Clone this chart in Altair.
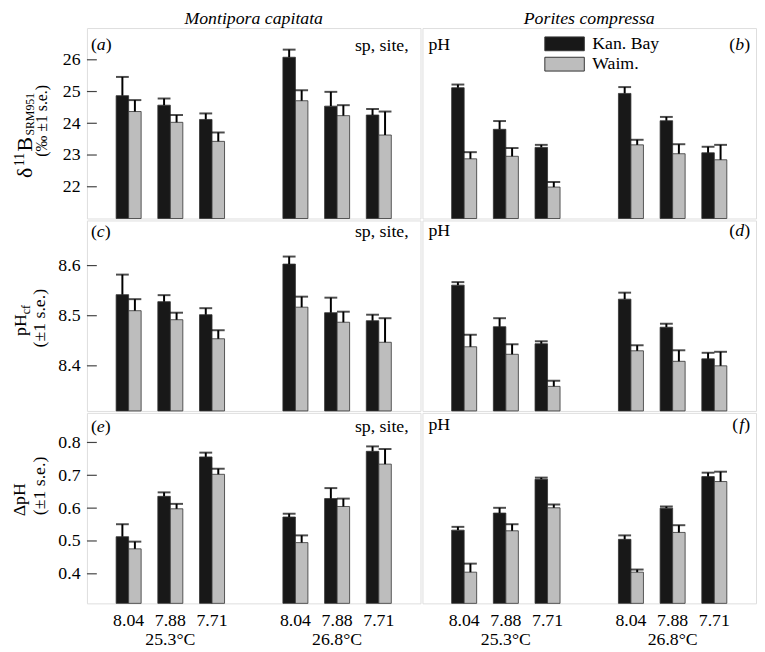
import altair as alt
import pandas as pd

FONT = "Liberation Serif"
W, H = 338, 193
BLACK = "#181818"
GRAY = "#bdbdbd"

temps = ["25.3°C", "26.8°C"]
ph_levels = ["8.04", "7.88", "7.71"]
sites = ["Kan. Bay", "Waim."]
species = ["Montipora capitata", "Porites compressa"]

# (a) Montipora capitata, d11B
a_kan = [24.87, 24.57, 24.12, 26.08, 24.54, 24.26]
a_kan_se = [0.59, 0.21, 0.19, 0.24, 0.45, 0.19]
a_wai = [24.37, 24.03, 23.43, 24.71, 24.24, 23.63]
a_wai_se = [0.36, 0.23, 0.28, 0.33, 0.33, 0.74]
# (b) Porites compressa, d11B
b_kan = [25.12, 23.81, 23.24, 24.94, 24.08, 23.07]
b_kan_se = [0.10, 0.26, 0.08, 0.20, 0.12, 0.19]
b_wai = [22.88, 22.96, 21.99, 23.32, 23.04, 22.85]
b_wai_se = [0.21, 0.26, 0.16, 0.16, 0.30, 0.47]
# (c) Montipora capitata, pHcf
c_kan = [8.542, 8.528, 8.502, 8.603, 8.506, 8.490]
c_kan_se = [0.040, 0.013, 0.013, 0.015, 0.030, 0.012]
c_wai = [8.510, 8.492, 8.454, 8.517, 8.487, 8.447]
c_wai_se = [0.023, 0.014, 0.017, 0.021, 0.021, 0.048]
# (d) Porites compressa, pHcf
d_kan = [8.561, 8.478, 8.444, 8.533, 8.477, 8.414]
d_kan_se = [0.006, 0.017, 0.005, 0.013, 0.007, 0.012]
d_wai = [8.438, 8.423, 8.359, 8.430, 8.409, 8.400]
d_wai_se = [0.024, 0.020, 0.011, 0.011, 0.022, 0.028]
# (e) Montipora capitata, delta pH
e_kan = [0.513, 0.636, 0.756, 0.573, 0.629, 0.773]
e_kan_se = [0.038, 0.012, 0.013, 0.010, 0.032, 0.015]
e_wai = [0.476, 0.598, 0.703, 0.495, 0.605, 0.734]
e_wai_se = [0.022, 0.015, 0.017, 0.022, 0.024, 0.046]
# (f) Porites compressa, delta pH
f_kan = [0.533, 0.585, 0.688, 0.505, 0.600, 0.696]
f_kan_se = [0.010, 0.016, 0.005, 0.012, 0.005, 0.012]
f_wai = [0.405, 0.531, 0.601, 0.405, 0.526, 0.681]
f_wai_se = [0.026, 0.020, 0.010, 0.008, 0.022, 0.030]

y1_domain = [21, 27]
y1_ticks = [22, 23, 24, 25, 26]
y2_domain = [8.31, 8.69]
y2_ticks = [8.4, 8.5, 8.6]
y3_domain = [0.31, 0.89]
y3_ticks = [0.4, 0.5, 0.6, 0.7, 0.8]

keys = [f"{t}|{p}" for t in temps for p in ph_levels]
xdomain = keys[:3] + ["gap"] + keys[3:]

ONE = pd.DataFrame({"n": [0]})


def make_df(kan, kan_se, wai, wai_se):
    rows = []
    for i, k in enumerate(keys):
        rows.append({"key": k, "site": sites[0], "mean": kan[i], "top": kan[i] + kan_se[i]})
        rows.append({"key": k, "site": sites[1], "mean": wai[i], "top": wai[i] + wai_se[i]})
    return pd.DataFrame(rows)


def txt(text, x, y, size=18, align="left", baseline="middle", angle=0, italic=False):
    kw = dict(text=text, font=FONT, fontSize=size, align=align, baseline=baseline, color="black")
    if angle:
        kw["angle"] = angle
    if italic:
        kw["fontStyle"] = "italic"
    return alt.Chart(ONE).mark_text(**kw).encode(x=alt.value(x), y=alt.value(y))


LW = {"a": 9, "b": 9, "c": 8, "d": 9, "e": 8, "f": 6}


def panel_label(letter, x, y, right=False):
    w = LW[letter]
    if right:
        return [txt(")", x, y, align="right"), txt(letter, x - 6, y, align="right", italic=True),
                txt("(", x - 6 - w, y, align="right")]
    return [txt("(", x, y), txt(letter, x + 6, y, italic=True), txt(")", x + 6 + w, y)]


color = alt.Color("site:N", scale=alt.Scale(domain=sites, range=[BLACK, GRAY]), legend=None)
xo = alt.XOffset("site:N", scale=alt.Scale(domain=sites, paddingInner=0, paddingOuter=0))


def panel(df, ydom, yticks, fmt, col, row, extras):
    if row == 2:
        xaxis = alt.Axis(labelExpr="datum.value == 'gap' ? '' : split(datum.value, '|')[1]",
                         ticks=False, tickSize=0, domain=False, labelAngle=0, labelFont=FONT,
                         labelFontSize=18, labelColor="black", labelPadding=8, title=None)
    else:
        xaxis = None
    xs = alt.Scale(domain=xdomain, paddingInner=0.4, paddingOuter=0.7)
    if col == 0:
        yaxis = alt.Axis(values=yticks, format=fmt, ticks=False, tickSize=0, domain=False, grid=False,
                         labelFont=FONT, labelFontSize=18, labelColor="black", labelPadding=7, title=None)
    else:
        yaxis = None
    ys = alt.Scale(domain=ydom, zero=False, nice=False)

    def X():
        return alt.X("key:N", scale=xs, axis=xaxis, title=None)

    def Y(f):
        return alt.Y(f, scale=ys, axis=yaxis, title=None)

    base = alt.Chart(df)
    bars = base.mark_bar(stroke="#333333", strokeWidth=0.8).encode(
        x=X(), xOffset=xo, y=Y("mean:Q"), y2=alt.datum(ydom[0]), color=color)
    err = base.mark_rule(color="black", strokeWidth=2).encode(
        x=X(), xOffset=xo, y=Y("mean:Q"), y2="top:Q")
    cap = base.mark_tick(color="black", thickness=2, size=13).encode(
        x=X(), xOffset=xo, y=Y("top:Q"))
    layers = [bars, err, cap]
    if col == 0:
        tk = alt.Chart(pd.DataFrame({"v": yticks})).mark_rule(color="#444444", strokeWidth=1.2).encode(
            y=Y("v:Q"), x=alt.value(0), x2=alt.value(10))
        layers.append(tk)
    if row == 0:
        layers.append(txt(species[col], W / 2, -9, align="center", italic=True))
    if row == 2:
        tl = alt.Chart(pd.DataFrame({"key": [keys[1], keys[4]], "t": temps})).mark_text(
            font=FONT, fontSize=18, baseline="top", color="black").encode(
            x=X(), y=alt.value(H + 28), text="t:N")
        layers.append(tl)
    layers.extend(extras)
    return alt.layer(*layers).properties(width=W, height=H)


# y titles (rotated text pieces)
t1 = [txt("δ", -56, 152, size=22, angle=270, baseline="alphabetic"),
      txt("11", -64, 140, size=14, angle=270, baseline="alphabetic"),
      txt("B", -56, 125, size=22, angle=270, baseline="alphabetic"),
      txt("SRM951", -54, 109, size=12, angle=270, baseline="alphabetic"),
      txt("(‰ ±1 s.e.)", -40, 94, size=16, angle=270, align="center", baseline="alphabetic")]
t2 = [txt("pH", -62, 117, angle=270, baseline="alphabetic"),
      txt("cf", -58, 95, size=12, angle=270, baseline="alphabetic"),
      txt("(±1 s.e.)", -43, 99, angle=270, align="center", baseline="alphabetic")]
t3 = [txt("ΔpH", -63, 88, angle=270, align="center", baseline="alphabetic"),
      txt("(±1 s.e.)", -43, 74, angle=270, align="center", baseline="alphabetic")]

leg = []
for i, s in enumerate(sites):
    leg.append(alt.Chart(pd.DataFrame({"site": [s]})).mark_rect(stroke="#333333", strokeWidth=1).encode(
        x=alt.value(124), x2=alt.value(164), y=alt.value(9 + 20.6 * i), y2=alt.value(23 + 20.6 * i),
        color=color))
    leg.append(txt(s, 172, 16 + 20.6 * i))

pa = panel(make_df(a_kan, a_kan_se, a_wai, a_wai_se), y1_domain, y1_ticks, "d", 0, 0,
           panel_label("a", 4, 17) + [txt("sp, site,", 326, 18, align="right")] + t1)
pb = panel(make_df(b_kan, b_kan_se, b_wai, b_wai_se), y1_domain, y1_ticks, "d", 1, 0,
           [txt("pH", 6, 17)] + panel_label("b", 332, 17, right=True) + leg)
pc = panel(make_df(c_kan, c_kan_se, c_wai, c_wai_se), y2_domain, y2_ticks, ".1f", 0, 1,
           panel_label("c", 4, 12) + [txt("sp, site,", 326, 12, align="right")] + t2)
pd_ = panel(make_df(d_kan, d_kan_se, d_wai, d_wai_se), y2_domain, y2_ticks, ".1f", 1, 1,
            [txt("pH", 6, 11)] + panel_label("d", 332, 11, right=True))
pe = panel(make_df(e_kan, e_kan_se, e_wai, e_wai_se), y3_domain, y3_ticks, ".1f", 0, 2,
           panel_label("e", 4, 14) + [txt("sp, site,", 326, 14, align="right")] + t3)
pf = panel(make_df(f_kan, f_kan_se, f_wai, f_wai_se), y3_domain, y3_ticks, ".1f", 1, 2,
           [txt("pH", 6, 12)] + panel_label("f", 332, 12, right=True))

chart = alt.concat(pa, pb, pc, pd_, pe, pf, columns=2, spacing=0).resolve_scale(
    x="independent", y="independent"
).properties(
    padding={"left": 2, "top": -3, "right": 0, "bottom": 0}
).configure_view(stroke="#555555", strokeWidth=1.5).configure(background="white")

chart.save("out.html", embed_options={"renderer": "svg", "actions": False})
